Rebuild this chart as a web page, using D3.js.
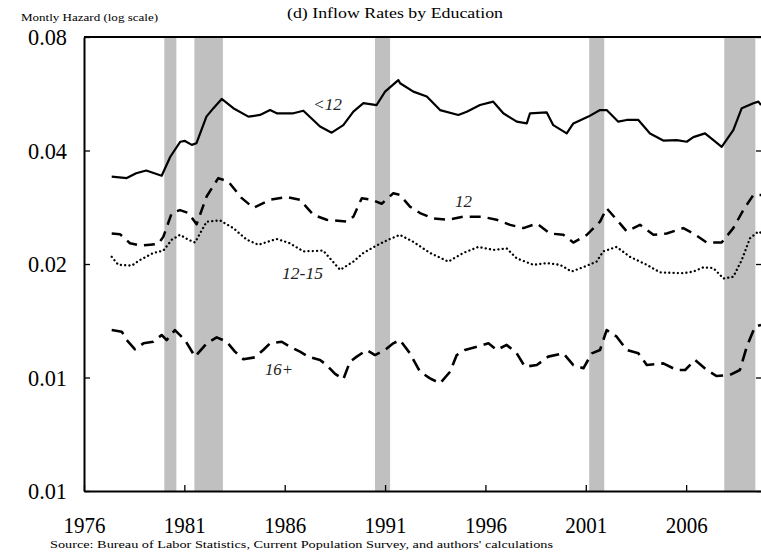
<!DOCTYPE html>
<html>
<head>
<meta charset="utf-8">
<script src="https://cdn.jsdelivr.net/npm/d3@7"></script>
<style>
html,body{margin:0;padding:0;background:#fff;}
svg{display:block;}
text{font-family:"Liberation Serif","Times New Roman",serif;fill:#000;}
</style>
</head>
<body>
<script>
// ---------- data ----------
const xTickYears = [1976, 1981, 1986, 1991, 1996, 2001, 2006];
const yTickValues = [0.08, 0.04, 0.02, 0.01, 0.005];
const yTickLabels = ["0.08", "0.04", "0.02", "0.01", "0.01"];

const recessionStarts = [1980.0, 1981.5, 1990.5, 2001.17, 2007.9];
const recessionEnds   = [1980.6, 1982.92, 1991.25, 2001.92, 2009.45];

const lt12Years = [1977.38,1978.13,1978.6,1979.1,1979.87,1980.3,1980.8,1981.03,1981.37,1981.6,1982.1,1982.45,1982.86,1983.44,1984.19,1984.77,1985.27,1985.6,1986.43,1986.93,1987.76,1988.34,1988.92,1989.42,1989.92,1990.58,1991.0,1991.66,1991.75,1992.41,1993.08,1993.74,1994.65,1995.07,1995.73,1996.39,1996.89,1997.56,1998.06,1998.22,1999.05,1999.38,2000.05,2000.38,2001.13,2001.71,2002.04,2002.62,2003.04,2003.62,2004.2,2004.86,2005.53,2006.03,2006.36,2006.94,2007.36,2007.77,2008.35,2008.77,2009.35,2009.6,2009.73];
const lt12Values = [0.0341,0.0338,0.0348,0.0354,0.0343,0.0385,0.0422,0.0424,0.0414,0.0418,0.0492,0.0518,0.0548,0.0518,0.0492,0.0497,0.0512,0.0502,0.0502,0.0510,0.0463,0.0446,0.0467,0.0507,0.0534,0.0528,0.0573,0.0615,0.0603,0.0573,0.0556,0.0512,0.0497,0.0507,0.0528,0.0539,0.0502,0.0477,0.0472,0.0502,0.0505,0.0467,0.0444,0.0472,0.0492,0.0512,0.0512,0.0477,0.0482,0.0482,0.0444,0.0425,0.0426,0.0422,0.0434,0.0444,0.0426,0.0409,0.0453,0.0518,0.0534,0.0539,0.0528];

const hs12Years = [1977.38,1977.79,1978.29,1978.79,1979.29,1979.7,1979.95,1980.37,1980.78,1981.2,1981.61,1982.11,1982.69,1983.19,1983.86,1984.44,1985.27,1986.1,1986.76,1987.43,1988.09,1989.09,1989.42,1989.84,1990.33,1990.83,1991.41,1991.74,1992.24,1992.74,1993.4,1994.15,1994.9,1995.82,1996.56,1997.23,1997.89,1998.56,1999.22,1999.88,2000.38,2001.05,2001.71,2002.04,2002.71,2003.04,2003.7,2004.37,2005.03,2005.86,2006.36,2007.03,2007.77,2008.35,2008.85,2009.35,2009.73];
const hs12Values = [0.0241,0.0240,0.0227,0.0224,0.0225,0.0226,0.0236,0.0273,0.0278,0.0273,0.0255,0.0302,0.0338,0.0331,0.0299,0.0282,0.0296,0.0301,0.0296,0.0270,0.0262,0.0259,0.0267,0.0299,0.0296,0.0289,0.0308,0.0305,0.0284,0.0273,0.0264,0.0262,0.0267,0.0267,0.0262,0.0254,0.0249,0.0256,0.0241,0.0239,0.0228,0.0239,0.0259,0.0281,0.0256,0.0244,0.0254,0.0239,0.0241,0.0249,0.0241,0.0228,0.0228,0.0249,0.0278,0.0305,0.0305];

const sc1215Years = [1977.38,1977.71,1978.38,1978.79,1979.45,1979.95,1980.37,1980.78,1981.2,1981.53,1982.11,1982.78,1983.44,1984.11,1984.69,1985.6,1986.26,1986.93,1987.92,1988.76,1989.42,1989.92,1990.58,1991.16,1991.74,1992.41,1993.24,1994.15,1994.9,1995.65,1996.39,1997.06,1997.56,1998.39,1999.05,1999.72,2000.3,2000.96,2001.54,2001.87,2002.54,2003.2,2004.04,2004.7,2005.86,2006.36,2006.86,2007.36,2007.86,2008.35,2008.77,2009.18,2009.6,2009.73];
const sc1215Values = [0.0209,0.0199,0.0198,0.0205,0.0214,0.0217,0.0232,0.0239,0.0232,0.0228,0.0259,0.0261,0.0249,0.0232,0.0225,0.0233,0.0227,0.0216,0.0217,0.0193,0.0203,0.0214,0.0224,0.0232,0.0239,0.0229,0.0214,0.0203,0.0214,0.0222,0.0218,0.0220,0.0207,0.0199,0.0201,0.0199,0.0191,0.0197,0.0203,0.0216,0.0222,0.0209,0.0199,0.0190,0.0189,0.0191,0.0196,0.0195,0.0183,0.0185,0.0205,0.0234,0.0244,0.0242];

const col16Years = [1977.38,1977.88,1978.13,1978.54,1978.96,1979.45,1979.87,1980.12,1980.53,1981.03,1981.53,1982.11,1982.61,1983.11,1983.52,1983.94,1984.52,1984.93,1985.27,1985.85,1986.26,1986.76,1987.18,1987.76,1988.09,1988.51,1988.92,1989.25,1989.59,1990.09,1990.5,1991.0,1991.41,1991.74,1992.24,1992.74,1993.24,1993.74,1994.24,1994.57,1994.98,1995.57,1996.15,1996.56,1997.06,1997.56,1997.97,1998.56,1999.13,1999.88,2000.38,2000.88,2001.3,2001.71,2002.04,2002.54,2003.04,2003.62,2004.04,2004.86,2005.53,2005.95,2006.44,2007.03,2007.52,2008.18,2008.68,2009.02,2009.43,2009.73];
const col16Values = [0.01336,0.01323,0.01257,0.01188,0.01232,0.01244,0.01296,0.01257,0.01336,0.01257,0.01136,0.01232,0.01278,0.01244,0.01171,0.01118,0.01131,0.01183,0.01232,0.01244,0.01207,0.01171,0.01136,0.01113,0.01079,0.01022,0.00989,0.01101,0.01136,0.01183,0.01147,0.01183,0.01232,0.01257,0.01159,0.01036,0.00995,0.00965,0.01036,0.01147,0.01183,0.01207,0.01232,0.01183,0.0122,0.01159,0.01068,0.01079,0.01136,0.01159,0.01079,0.01058,0.01159,0.01183,0.01336,0.01283,0.01183,0.01159,0.01079,0.0109,0.01047,0.01047,0.01113,0.01047,0.01009,0.01016,0.01047,0.01207,0.01364,0.01378];

const seriesNames = ["<12", "12", "12-15", "16+"];

// ---------- layout ----------
const W = 761, H = 553;
const L = 84, T = 37, R = 761, B = 491;

const svg = d3.select("body").append("svg").attr("width", W).attr("height", H);

const x = d3.scaleLinear().domain([1976, 2009.73]).range([L, R]);
const y = d3.scaleLog().domain([0.005, 0.08]).range([B, T]);

// recession bars
svg.append("g").selectAll("rect")
  .data(recessionStarts.map((s, i) => [s, recessionEnds[i]]))
  .join("rect")
  .attr("x", d => x(d[0]))
  .attr("width", d => x(d[1]) - x(d[0]))
  .attr("y", T)
  .attr("height", B - T)
  .attr("fill", "#c0c0c0");

// lines
const series = [
  {name: seriesNames[0], years: lt12Years, values: lt12Values, dash: null, width: 2.2},
  {name: seriesNames[1], years: hs12Years, values: hs12Values, dash: "11,7", width: 2.5},
  {name: seriesNames[2], years: sc1215Years, values: sc1215Values, dash: "0.1,4.2", width: 2.3},
  {name: seriesNames[3], years: col16Years, values: col16Values, dash: "13,7", width: 2.6}
];
const line = d3.line().x(d => x(d[0])).y(d => y(d[1]));
svg.append("defs").append("clipPath").attr("id", "clip")
  .append("rect").attr("x", L).attr("y", T).attr("width", R - L).attr("height", B - T);
const lg = svg.append("g").attr("clip-path", "url(#clip)");
series.forEach(s => {
  lg.append("path")
    .datum(s.years.map((yr, i) => [yr, s.values[i]]))
    .attr("d", line)
    .attr("fill", "none")
    .attr("stroke", "#000")
    .attr("stroke-width", s.width)
    .attr("stroke-linejoin", "round")
    .attr("stroke-linecap", s.dash && s.dash.startsWith("0.1") ? "round" : "butt")
    .attr("stroke-dasharray", s.dash);
});

// top border
svg.append("line").attr("x1", L).attr("x2", R).attr("y1", T).attr("y2", T)
  .attr("stroke", "#000").attr("stroke-width", 1.8);

// left axis
const yAxis = d3.axisLeft(y).tickValues(yTickValues)
  .tickFormat((d, i) => yTickLabels[i]).tickSizeInner(-6).tickSizeOuter(0).tickPadding(17);
const ga = svg.append("g").attr("transform", `translate(${L},0)`).call(yAxis);
ga.select(".domain").attr("stroke-width", 2);
ga.selectAll(".tick line").attr("stroke-width", 1.3);
ga.selectAll(".tick text")
  .style("font-family", "Liberation Serif, serif").style("font-size", "24px")
  .attr("textLength", 39).attr("lengthAdjust", "spacingAndGlyphs");

// right ticks
const gr = svg.append("g").attr("transform", `translate(${R},0)`)
  .call(d3.axisRight(y).tickValues(yTickValues).tickFormat("").tickSizeInner(-5).tickSizeOuter(0));
gr.select(".domain").remove();
gr.selectAll(".tick line").attr("stroke-width", 1.3);

// bottom axis
const xAxis = d3.axisBottom(x).tickValues(xTickYears).tickFormat(d3.format("d"))
  .tickSizeInner(-6).tickSizeOuter(0).tickPadding(25);
const gb = svg.append("g").attr("transform", `translate(0,${B})`).call(xAxis);
gb.select(".domain").attr("stroke-width", 2);
gb.selectAll(".tick line").attr("stroke-width", 1.3);
gb.selectAll(".tick text")
  .style("font-family", "Liberation Serif, serif").style("font-size", "24px")
  .attr("dy", "0.71em")
  .attr("textLength", 42).attr("lengthAdjust", "spacingAndGlyphs");

// series labels
const labelPos = [[313, 110], [455, 207], [282, 279], [265, 375]];
const labelLen = [29, 17, 41, 28];
seriesNames.forEach((n, i) => {
  svg.append("text").attr("x", labelPos[i][0]).attr("y", labelPos[i][1])
    .style("font-style", "italic").style("font-size", "16px").style("fill", "#222")
    .attr("textLength", labelLen[i]).attr("lengthAdjust", "spacingAndGlyphs")
    .text(n);
});

// titles
svg.append("text").attr("x", 287).attr("y", 18).style("font-size", "15px")
  .attr("textLength", 216).attr("lengthAdjust", "spacingAndGlyphs")
  .text("(d) Inflow Rates by Education");
svg.append("text").attr("x", 21).attr("y", 21).style("font-size", "11px")
  .attr("textLength", 137).attr("lengthAdjust", "spacingAndGlyphs")
  .text("Montly Hazard (log scale)");
svg.append("text").attr("x", 50).attr("y", 548).style("font-size", "11px")
  .attr("textLength", 503).attr("lengthAdjust", "spacingAndGlyphs")
  .text("Source: Bureau of Labor Statistics, Current Population Survey, and authors' calculations");
</script>
</body>
</html>
